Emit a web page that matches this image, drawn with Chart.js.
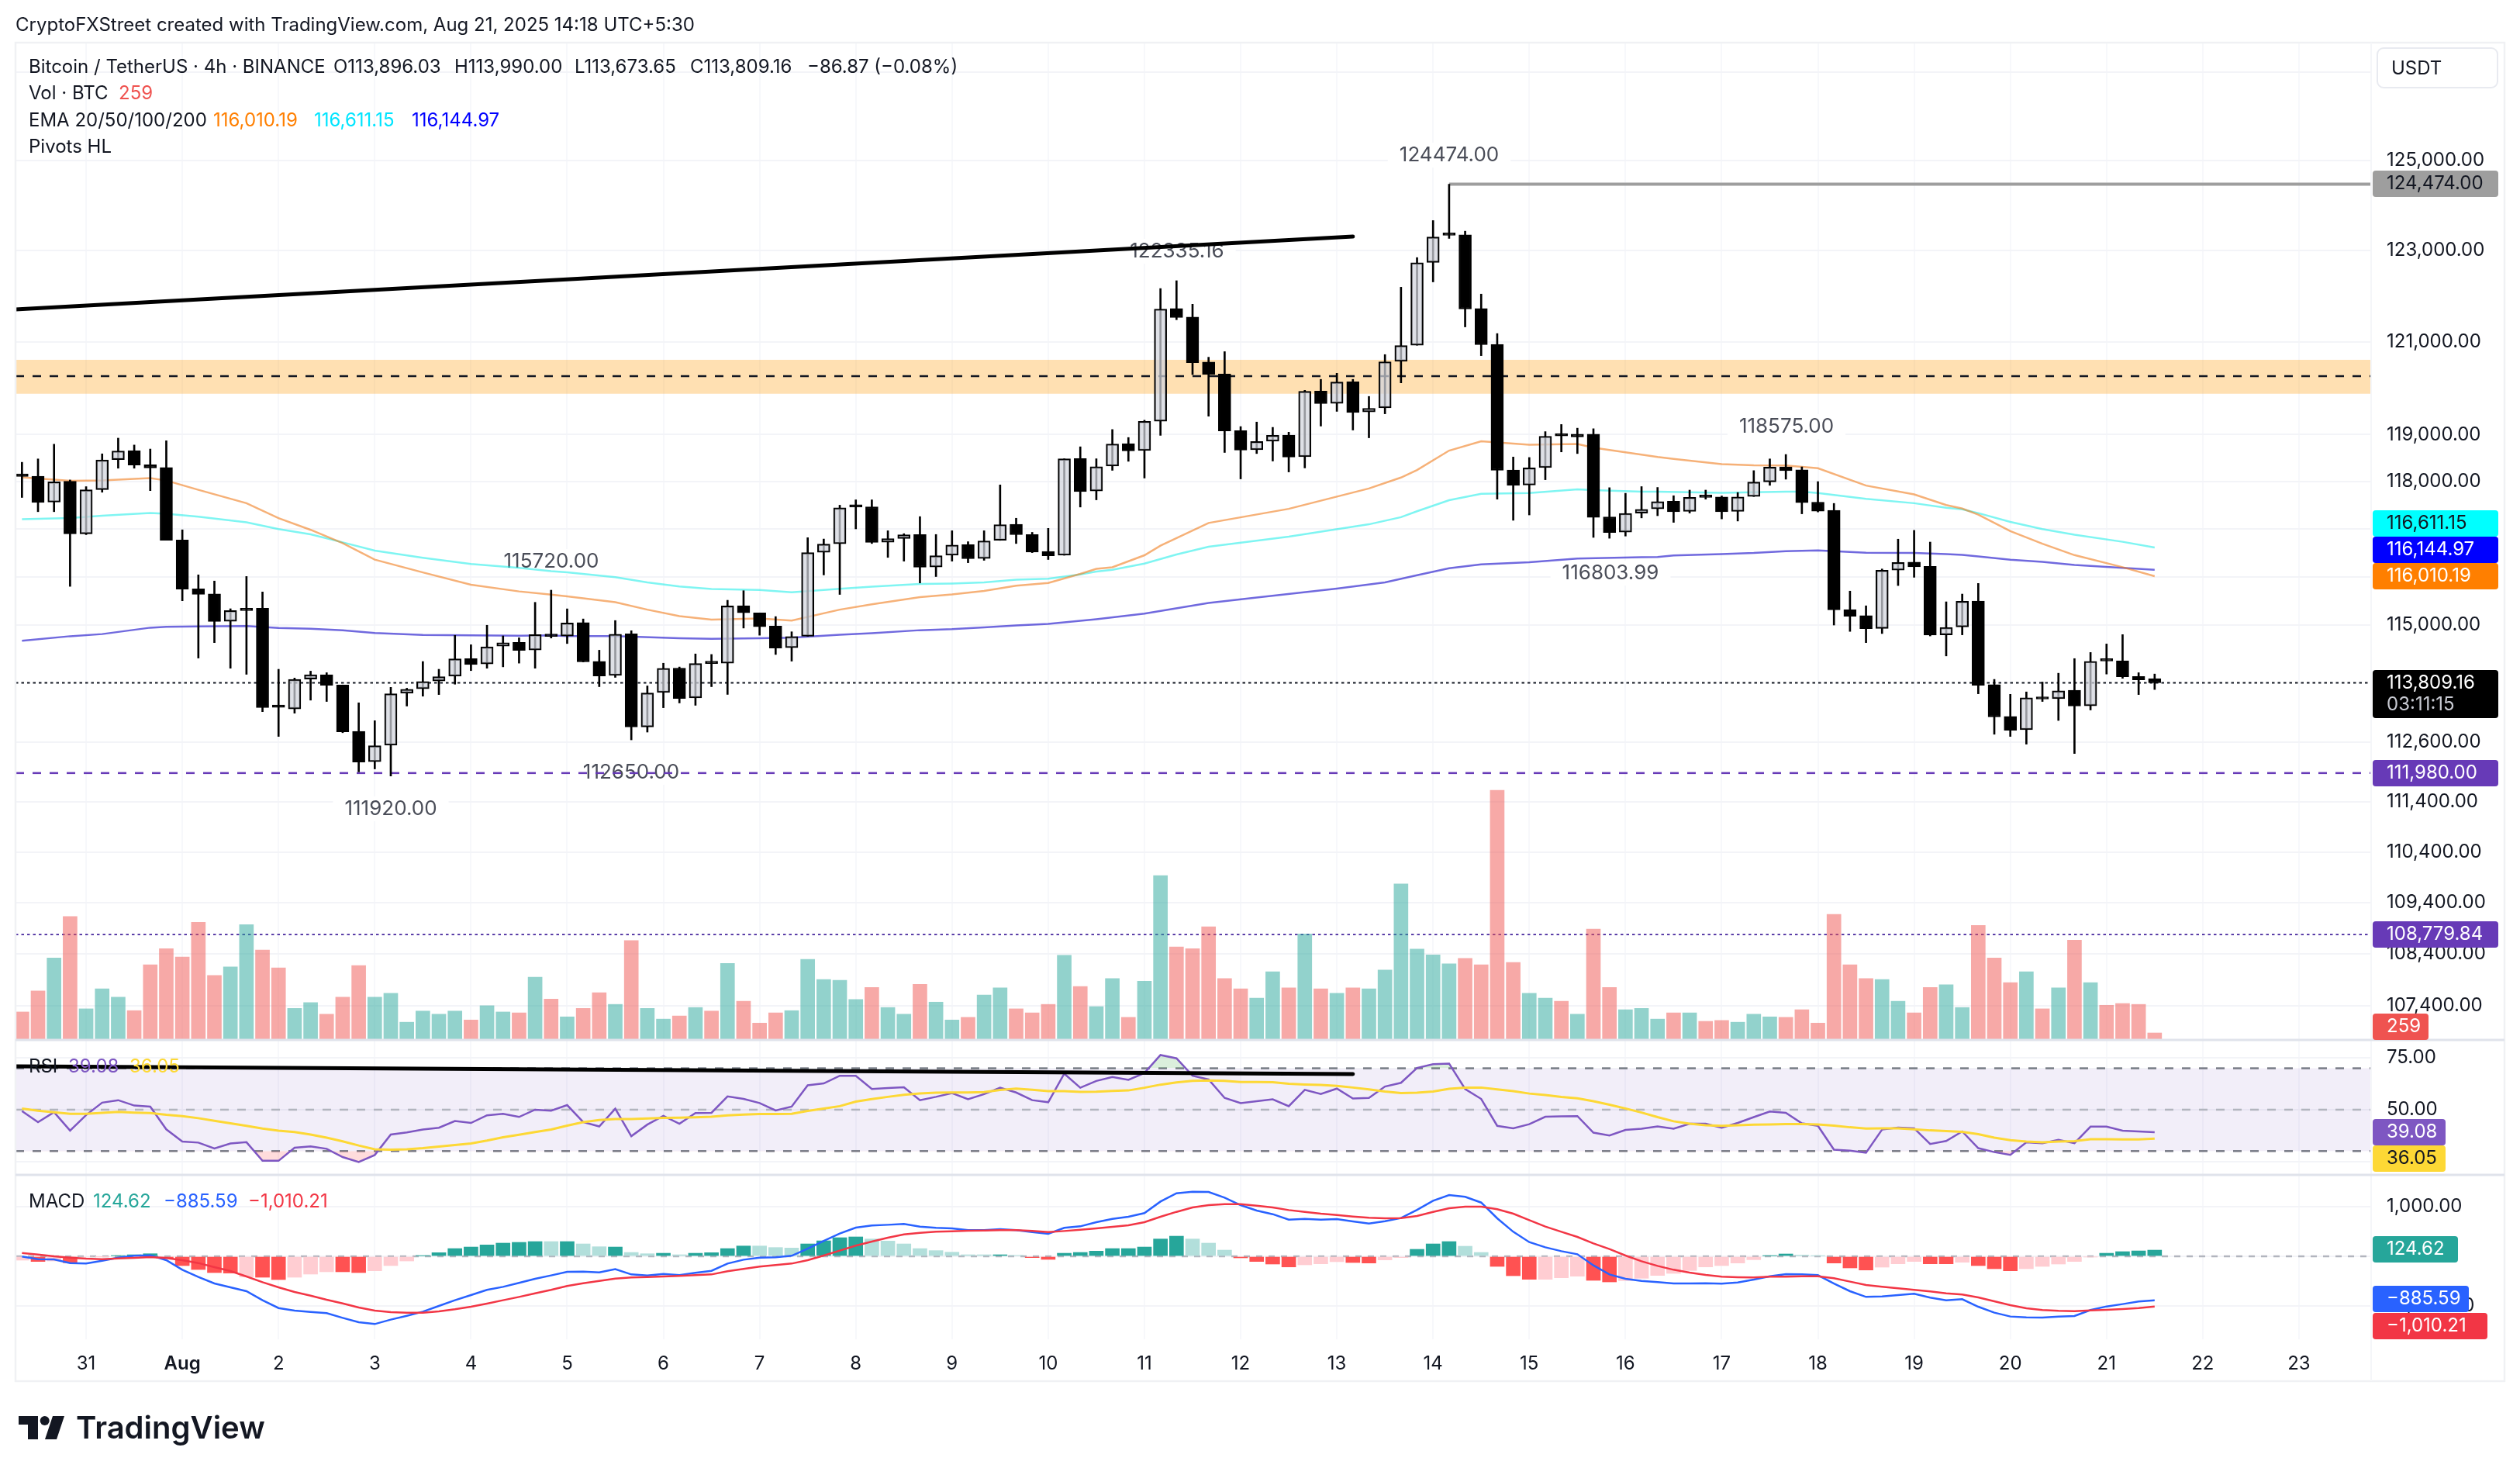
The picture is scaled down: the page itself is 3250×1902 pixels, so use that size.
<!DOCTYPE html>
<html>
<head>
<meta charset="utf-8">
<style>
html, body { margin: 0; padding: 0; background: #fff; }
canvas { display: block; }
</style>
<script src="https://cdn.jsdelivr.net/npm/chart.js@4"></script>
</head>
<body>
<canvas id="chart" width="3250" height="1902"></canvas>
<script>
// 4h candles
var opens = [118164,118113,117565,118005,116897,117830,118464,118657,118357,118300,116769,115749,115644,115075,115345,115345,113326,113277,113886,113974,113766,112822,112208,112541,113597,113690,113848,113946,114306,114197,114564,114641,114482,114811,114770,115046,114249,113960,114814,112911,113612,114112,113503,114233,114211,115399,115249,114974,114529,114765,116509,116687,117483,117467,116721,116799,116883,116203,116448,116671,116381,116760,117096,116883,116526,116448,118490,117799,118328,118806,118658,119284,121726,121539,120561,120301,119085,118675,118857,118988,118527,119933,119669,120134,119485,119571,120578,120925,122737,123357,123345,121726,120942,118244,117926,118295,118988,119011,119011,117254,116934,117334,117424,117582,117368,117683,117672,117368,117683,117994,118311,118249,117565,117391,115318,115191,114927,116139,116306,116217,114795,114960,115495,113772,113125,112854,113510,113488,113657,113342,114279,114262,113941,113896.03];
var highs = [118409,118481,118794,118033,117892,118589,118924,118777,118691,118868,116981,116039,115910,115334,116005,115683,114087,113908,114049,114017,113766,113402,113038,113717,113700,114246,114087,114785,114591,114993,114773,114734,115467,115720,115332,115123,114479,115090,114880,113747,114211,114134,114402,114391,115510,115709,115249,115172,114858,116816,116788,117500,117613,117613,116962,116900,117259,116883,116962,116732,116962,117929,117225,116928,117012,118484,118739,118484,119108,118937,119307,122163,122335,121819,120665,120786,119171,119268,119154,119051,119950,120186,120318,120186,119818,120722,122192,122844,123664,124474,123428,122041,121179,118521,118511,119063,119216,119137,119125,117870,117751,117893,117875,117700,117819,117819,117695,117768,118232,118481,118575,118311,117999,117537,115700,115395,116161,116785,116970,116724,115478,115639,115860,113880,113575,113624,113826,114006,114306,114432,114607,114800,114017,113990];
var lows = [117663,117363,117363,115799,116880,117774,118283,118283,117808,116763,115500,114317,114635,114109,113984,113222,112719,113190,113456,113429,112795,112004,112063,111920,113336,113537,113570,113782,114060,114109,114137,114213,114109,114729,114616,114238,113731,113921,112650,112807,113302,113399,113351,113731,113573,114935,114787,114391,114254,114765,116037,115631,117001,116694,116403,116325,115870,116003,116325,116292,116342,116760,116694,116503,116359,116448,117461,117613,118238,118430,118074,118983,121481,120289,119393,118618,118056,118595,118436,118204,118289,119182,119497,119097,118931,119445,120111,120925,122309,123268,121324,120699,117627,117182,117294,118039,118630,118595,116822,116804,116850,117232,117278,117138,117334,117627,117211,117166,117683,117920,118050,117318,117357,114997,114866,114635,114822,115816,115988,114772,114361,114795,113586,112763,112719,112563,113429,113043,112374,113256,113989,113902,113570,113673.65];
var closes = [118107,117559,117994,116897,117824,118459,118651,118351,118289,116763,115743,115633,115070,115295,115295,113304,113309,113880,113974,113761,112811,112203,112530,113586,113679,113837,113935,114301,114186,114547,114630,114476,114800,114762,115040,114238,113949,114808,112911,113601,114107,113492,114205,114205,115393,115249,114963,114523,114759,116503,116682,117444,117461,116716,116794,116878,116197,116437,116660,116375,116749,117091,116878,116515,116437,118484,117788,118314,118800,118652,119284,121714,121528,120549,120289,119079,118669,118852,118983,118521,119927,119663,120129,119474,119560,120566,120919,122731,123298,123339,121714,120936,118238,117920,118289,118965,118971,118949,117243,116923,117328,117413,117576,117363,117666,117666,117363,117672,117988,118306,118232,117554,117374,115312,115180,114921,116133,116295,116206,114789,114948,115489,113761,113114,112844,113505,113478,113646,113336,114251,114257,113935,113870,113809.16];
var volumes = [1136,2012,3391,5123,1267,2105,1751,1192,3111,3782,3428,4881,2664,3018,4788,3726,2981,1285,1528,1043,1751,3074,1751,1919,708,1174,1043,1174,801,1397,1136,1099,2590,1677,932,1285,1938,1453,4117,1285,838,969,1323,1174,3167,1584,671,1099,1192,3335,2496,2459,1658,2161,1323,1043,2291,1546,801,913,1844,2142,1267,1099,1453,3502,2198,1360,2534,913,2422,6837,3856,3782,4695,2534,2105,1714,2813,2142,4397,2105,1919,2142,2105,2888,6483,3763,3521,3148,3372,3111,10396,3204,1919,1714,1584,1043,4602,2161,1230,1285,838,1099,1099,745,782,708,1043,932,913,1230,671,5216,3111,2534,2496,1584,1099,2161,2273,1323,4751,3391,2366,2813,1267,2142,4136,2366,1416,1490,1453,259];
var volumeUp = [0,0,1,0,1,1,1,0,0,0,0,0,0,1,1,0,0,1,1,0,0,0,1,1,1,1,1,1,0,1,1,0,1,0,1,0,0,1,0,1,1,0,1,0,1,0,0,0,1,1,1,1,1,0,1,1,0,1,1,0,1,1,0,0,0,1,0,1,1,0,1,1,0,0,0,0,0,1,1,0,1,0,1,0,1,1,1,1,1,1,0,0,0,0,1,1,0,1,0,0,1,1,1,0,1,0,0,1,1,1,0,0,0,0,0,0,1,1,0,0,1,1,0,0,0,1,0,1,0,1,0,0,0,0];

// EMA curves, read at the bars listed in each index array
var ema20Bars = [0,3,5,8,9,11,14,16,18,20,22,25,28,31,33,34,37,39,41,43,46,48,51,53,56,58,60,62,64,66,67,68,70,71,74,79,84,86,87,89,91,94,97,98,101,102,103,106,108,110,112,115,118,120,121,122,124,126,128,131,133];
var ema20 = [118090,118016,118022,118073,118022,117824,117542,117227,116981,116702,116356,116089,115832,115694,115627,115593,115471,115316,115183,115111,115133,115089,115316,115426,115576,115631,115703,115814,115870,116059,116164,116197,116448,116650,117125,117423,117853,118085,118244,118658,118857,118783,118800,118721,118573,118521,118481,118368,118345,118340,118283,117915,117729,117503,117430,117301,116953,116690,116451,116199,116010.19];
var ema50Bars = [0,3,5,8,9,11,14,16,18,20,22,25,28,31,33,34,37,39,41,43,46,48,51,53,56,58,60,62,64,66,67,68,70,72,74,79,84,86,87,89,91,94,97,98,101,102,106,108,110,111,112,115,118,120,121,122,124,126,128,131,133];
var ema50 = [117206,117228,117278,117335,117318,117256,117138,116998,116886,116718,116545,116395,116267,116183,116117,116092,115992,115881,115798,115743,115726,115676,115748,115792,115848,115859,115881,115937,115959,116048,116109,116143,116273,116465,116628,116839,117097,117248,117373,117605,117740,117757,117836,117819,117785,117785,117762,117774,117785,117785,117757,117633,117542,117447,117413,117334,117149,116998,116880,116730,116611.15];
var ema200Bars = [0,3,5,8,9,11,14,16,18,20,22,25,28,31,33,34,37,41,43,46,48,49,51,53,56,58,60,62,64,66,67,70,74,77,82,85,87,89,91,94,97,101,102,103,106,108,110,112,115,118,120,121,122,124,126,128,131,133];
var ema200 = [114674,114767,114811,114943,114960,114971,114976,114938,114921,114888,114833,114795,114784,114778,114784,114770,114770,114726,114715,114726,114737,114759,114797,114830,114891,114913,114951,114990,115023,115084,115117,115233,115453,115569,115753,115883,116031,116178,116258,116303,116381,116409,116413,116445,116473,116495,116534,116551,116501,116495,116473,116456,116423,116356,116311,116244,116183,116144.97];

var rsi = [49.3,44.0,48.8,39.9,47.4,53.4,54.6,52.0,51.5,40.5,34.6,34.1,31.3,33.7,34.3,25.3,25.3,31.6,32.3,31.1,27.1,24.7,28.1,38.0,39.0,40.4,41.3,44.5,43.6,47.3,48.0,46.5,50.0,49.5,52.2,44.0,41.9,50.5,37.2,42.8,47.0,43.2,48.4,48.5,56.4,55.2,53.2,49.6,51.5,61.8,62.7,66.4,66.4,60.0,60.5,60.8,54.6,56.2,58.0,55.1,57.5,60.6,58.3,54.6,53.6,67.4,60.6,63.9,65.8,64.4,67.7,76.4,74.8,66.4,64.6,55.7,53.2,54.1,55.0,51.7,59.6,57.6,60.2,55.4,55.7,61.2,63.0,70.2,72.0,72.3,60.0,55.2,42.2,41.0,43.0,46.6,46.8,46.9,38.9,37.5,40.2,40.8,41.9,40.8,43.2,43.2,41.3,43.6,46.4,49.1,48.5,43.4,42.2,30.7,30.2,29.2,40.4,41.4,41.0,33.4,34.9,39.5,31.4,29.5,28.2,34.2,33.8,35.4,33.8,41.8,41.8,39.9,39.5,39.08];
var rsiMa = [50.5,49.5,48.8,48.0,48.0,48.5,48.9,48.6,48.4,47.5,46.9,45.9,44.6,43.4,42.2,40.9,39.9,39.2,38.0,36.5,34.7,32.7,30.9,30.7,30.9,31.4,32.2,32.9,33.7,35.1,36.7,37.9,39.2,40.4,42.3,44.0,45.0,45.5,45.5,45.8,46.0,46.1,46.3,46.6,47.3,47.6,47.9,47.9,48.0,49.4,50.5,51.7,53.9,55.1,56.2,57.2,57.8,58.2,58.3,58.3,58.5,59.5,60.2,59.6,59.0,59.0,58.6,58.7,59.1,59.3,60.6,62.1,63.2,63.9,64.1,63.9,63.4,63.4,63.3,62.5,62.2,62.0,61.5,60.7,59.8,58.8,58.0,58.2,58.8,60.1,60.7,60.7,59.8,59.0,57.8,57.1,56.2,55.5,54.1,52.4,50.6,48.6,46.4,44.4,43.2,42.5,42.2,42.5,42.8,42.9,43.0,43.0,42.9,42.3,41.5,40.9,41.0,41.0,40.5,40.0,39.7,39.3,38.2,36.5,35.3,34.6,34.2,34.6,34.8,35.7,35.7,35.6,35.6,36.05];

var macdLine = [-5,-57,-62,-135,-146,-89,-26,10,21,-78,-271,-417,-547,-625,-703,-885,-1042,-1094,-1120,-1146,-1240,-1328,-1365,-1276,-1198,-1115,-1000,-885,-781,-677,-615,-536,-453,-385,-312,-307,-323,-260,-365,-385,-354,-380,-333,-292,-146,-68,-26,-21,10,156,312,458,578,620,635,651,599,573,562,526,526,547,526,490,453,573,604,687,755,797,870,1104,1271,1302,1297,1182,1031,922,849,740,755,740,750,703,661,708,771,937,1120,1234,1198,1083,766,495,286,182,104,42,-182,-365,-453,-495,-521,-547,-547,-542,-552,-526,-469,-401,-359,-365,-380,-547,-703,-818,-807,-781,-755,-833,-885,-865,-1016,-1135,-1213,-1229,-1234,-1213,-1203,-1083,-1010,-963,-911,-885.59];
var macdSignal = [68,36,0,-26,-47,-57,-42,-31,-16,-36,-78,-135,-219,-297,-406,-521,-625,-719,-792,-875,-948,-1031,-1094,-1125,-1135,-1135,-1109,-1068,-1016,-953,-885,-818,-745,-677,-599,-542,-495,-448,-427,-417,-406,-396,-380,-365,-302,-255,-208,-177,-146,-78,16,115,214,297,375,443,474,495,505,516,521,526,526,510,490,510,536,562,594,625,687,797,896,984,1031,1052,1052,1021,984,932,896,859,833,802,776,766,771,812,896,969,1000,1000,948,859,729,599,495,391,260,146,16,-99,-193,-271,-328,-375,-411,-422,-427,-411,-411,-401,-401,-443,-510,-578,-615,-646,-677,-708,-745,-771,-828,-906,-984,-1047,-1083,-1099,-1104,-1088,-1078,-1062,-1042,-1010.21];
var macdHist = [-78,-104,-94,-130,-16,-5,10,31,52,-42,-187,-266,-328,-339,-417,-422,-469,-422,-359,-312,-312,-328,-292,-187,-94,10,73,156,187,229,266,281,297,297,297,250,193,187,78,52,62,31,62,73,156,208,208,177,167,250,312,375,391,349,307,250,156,115,83,31,31,31,21,-26,-62,62,78,104,156,156,187,349,406,349,266,125,-31,-104,-156,-214,-172,-151,-109,-125,-135,-73,-26,141,250,297,203,78,-203,-391,-464,-464,-432,-401,-484,-516,-490,-443,-385,-344,-286,-214,-187,-135,-68,10,47,26,10,-135,-234,-276,-219,-151,-104,-151,-151,-120,-187,-250,-292,-250,-203,-156,-104,-10,62,94,109,124.62];
var histStrong = [0,1,0,1,0,0,1,1,1,1,1,1,1,1,0,1,1,0,0,0,1,1,0,0,0,1,1,1,1,1,1,1,1,0,1,0,0,1,0,0,1,0,1,1,1,1,0,0,0,1,1,1,1,0,0,0,0,0,0,0,0,1,0,1,1,1,1,1,1,1,1,1,1,0,0,0,1,1,1,1,0,0,0,1,1,0,0,1,1,1,0,0,1,1,1,0,0,0,1,1,0,0,0,0,0,0,0,0,0,1,1,0,0,1,1,1,0,0,0,1,1,0,1,1,1,0,0,0,0,0,1,1,1,1];

// axis ticks and labels
var priceTicks = [127000,125000,123000,121000,119000,118000,117000,116000,115000,112600,111400,110400,109400,108400,107400];
var rsiTicks = [75,50,25];
var macdTicks = [1000,0,-1000];
var dayNames = ['31','Aug','2','3','4','5','6','7','8','9','10','11','12','13','14','15','16','17','18','19','20','21','22','23'];

// drawn levels
var zoneLow = 119876, zoneHigh = 120609, zoneMid = 120256;
var highLevel = 124474, lowLevel = 111980, volumeLevel = 108779.84, lastPrice = 113809.16;
var trendStart = 121705, trendEnd = 123310, rsiTrendStart = 71, rsiTrendEnd = 67.2;
var pivotTexts = ['124474.00','122335.16','118575.00','116803.99','115720.00','112650.00','111920.00'];

var BAR_SLOTS = 147;
var FONT = 'Inter, "Noto Sans", sans-serif';
var INK = '#131722';

var timeLabels = [];
for (var s = 0; s < BAR_SLOTS; s++) timeLabels.push('');
dayNames.forEach(function (name, k) { timeLabels[4 + 6 * k] = name; });

function sparse(bars, vals) {
    var a = [];
    for (var i = 0; i < opens.length; i++) a.push(null);
    bars.forEach(function (b, j) { a[b] = vals[j]; });
    return a;
}

function money(v) {
    var t = Math.abs(v).toLocaleString('en-US', { minimumFractionDigits: 2, maximumFractionDigits: 2 });
    return (v < 0 ? '\u2212' : '') + t;
}

function setTicks(list) {
    return function (scale) {
        scale.ticks = list.map(function (v) { return { value: v }; });
    };
}

function yAxis(min, max, ticks, order, weight, type) {
    return {
        type: type,
        position: 'right',
        stack: 'panes',
        stackWeight: weight,
        weight: order,
        min: min,
        max: max,
        afterBuildTicks: setTicks(ticks),
        afterFit: function (scale) { scale.width = 192; },
        border: { display: false },
        grid: { color: '#f3f4f8', lineWidth: 2, drawTicks: false },
        ticks: {
            autoSkip: false,
            padding: 20,
            color: INK,
            font: { family: FONT, size: 24 },
            callback: function (v) { return money(v); }
        }
    };
}

function hline(ctx, x0, x1, y, color, width, dash) {
    ctx.save();
    ctx.beginPath();
    ctx.setLineDash(dash || []);
    ctx.strokeStyle = color;
    ctx.lineWidth = width;
    ctx.moveTo(x0, y);
    ctx.lineTo(x1, y);
    ctx.stroke();
    ctx.restore();
}

function label(ctx, text, x, y, color, font, align) {
    ctx.font = font || ('24px ' + FONT);
    ctx.fillStyle = color || INK;
    ctx.textAlign = align || 'left';
    ctx.textBaseline = 'middle';
    ctx.fillText(text, x, y);
}

// text pieces of the header, x and y in page pixels
var legendRows = [
    ['Bitcoin / TetherUS \u00b7 4h \u00b7 BINANCE', 37, 87, INK],
    ['O113,896.03', 430, 87, INK], ['H113,990.00', 586, 87, INK], ['L113,673.65', 741, 87, INK], ['C113,809.16', 890, 87, INK],
    ['\u221286.87 (\u22120.08%)', 1041, 87, INK],
    ['Vol \u00b7 BTC', 37, 121, INK], ['259', 153, 121, '#ef5350'],
    ['EMA 20/50/100/200', 37, 156, INK], ['116,010.19', 275, 156, '#ff7f00'], ['116,611.15', 405, 156, '#00e5ff'], ['116,144.97', 531, 156, '#0000ff'],
    ['Pivots HL', 37, 190, INK],
    ['RSI', 37, 1376, INK], ['39.08', 88, 1376, '#7e57c2'], ['36.05', 167, 1376, '#fdd835'],
    ['MACD', 37, 1550, INK], ['124.62', 120, 1550, '#26a69a'], ['\u2212885.59', 211, 1550, '#2962ff'], ['\u22121,010.21', 320, 1550, '#f23645']
];

// value tags on the right: text, centre y, right edge, fill, ink
var valueTags = [
    ['124,474.00', 237, 3222, '#9e9e9e', INK],
    ['116,611.15', 675, 3222, '#00ffff', INK],
    ['116,144.97', 709, 3222, '#0000ff', '#ffffff'],
    ['116,010.19', 743, 3222, '#ff7f00', '#ffffff'],
    ['111,980.00', 997, 3222, '#673ab7', '#ffffff'],
    ['108,779.84', 1205, 3222, '#673ab7', '#ffffff'],
    ['259', 1324, 3132, '#ef5350', '#ffffff'],
    ['39.08', 1460, 3154, '#7e57c2', '#ffffff'],
    ['36.05', 1494, 3154, '#fdd835', INK],
    ['124.62', 1611, 3170, '#26a69a', '#ffffff'],
    ['\u2212885.59', 1675, 3184, '#2962ff', '#ffffff'],
    ['\u22121,010.21', 1710, 3208, '#f23645', '#ffffff']
];

var paneDecor = {
    id: 'paneDecor',
    beforeDatasetsDraw: function (chart) {
        var ctx = chart.ctx, a = chart.chartArea, sc = chart.scales;
        var L = 20, R = a.right;
        var yP = function (v) { return sc.y.getPixelForValue(v); };
        // rsi band
        var y70 = sc.yRsi.getPixelForValue(70), y50 = sc.yRsi.getPixelForValue(50), y30 = sc.yRsi.getPixelForValue(30);
        ctx.fillStyle = 'rgba(126,87,194,0.1)';
        ctx.fillRect(L, y70, R - L, y30 - y70);
        hline(ctx, L, R, y70, '#787b86', 2.5, [11, 11]);
        hline(ctx, L, R, y50, '#b2b5be', 2.5, [11, 11]);
        hline(ctx, L, R, y30, '#787b86', 2.5, [11, 11]);
        // pivot labels, white patch breaks the grid
        var spots = [[1869, 200], [1518, 324], [2304, 550], [2077, 739], [711, 724], [814, 996], [504, 1043]];
        pivotTexts.forEach(function (t, i) {
            ctx.font = '26px ' + FONT;
            var w = ctx.measureText(t).width + 30;
            ctx.fillStyle = '#fff';
            ctx.fillRect(spots[i][0] - w / 2, spots[i][1] - 16, w, 32);
            label(ctx, t, spots[i][0], spots[i][1], '#4a4d58', '26px ' + FONT, 'center');
        });
        // orange zone sits under the candles
        ctx.fillStyle = 'rgba(255,152,0,0.3)';
        ctx.fillRect(L, yP(zoneHigh), R - L, yP(zoneLow) - yP(zoneHigh));
        hline(ctx, L, R, yP(zoneMid), '#131722', 2.5, [11, 11]);
        // levels
        hline(ctx, L, R, yP(lastPrice), '#131722', 2, [3.5, 4]);
        hline(ctx, L, R, yP(lowLevel), '#673ab7', 2.5, [11, 11]);
        hline(ctx, L, R, yP(volumeLevel), '#5b3fa8', 2, [3.5, 4]);
        hline(ctx, sc.x.getPixelForValue(89), R, yP(highLevel), '#9e9e9e', 4);
        hline(ctx, L, R, sc.yMacd.getPixelForValue(0), '#b2b5be', 2.5, [8, 8]);
    },
    afterDatasetsDraw: function (chart) {
        var ctx = chart.ctx, sc = chart.scales;
        var L = 20;
        var yP = function (v) { return sc.y.getPixelForValue(v); };
        // trend lines, price pane then rsi pane
        var xEnd = sc.x.getPixelForValue(83);
        ctx.save();
        ctx.strokeStyle = '#000';
        ctx.lineWidth = 5;
        ctx.lineCap = 'round';
        ctx.beginPath();
        ctx.moveTo(L, yP(trendStart));
        ctx.lineTo(xEnd, yP(trendEnd));
        ctx.moveTo(L, sc.yRsi.getPixelForValue(rsiTrendStart));
        ctx.lineTo(xEnd, sc.yRsi.getPixelForValue(rsiTrendEnd));
        ctx.stroke();
        ctx.restore();
    },
    afterDraw: function (chart) {
        var ctx = chart.ctx;
        var RIGHT = 3230;
        ctx.fillStyle = '#fff';
        ctx.fillRect(0, 40, 20, 1760);
        // frame and pane separators
        ctx.strokeStyle = '#f0f1f4';
        ctx.lineWidth = 2.5;
        ctx.strokeRect(20, 55, RIGHT - 20, 1781 - 55);
        ctx.beginPath();
        ctx.lineWidth = 2;
        ctx.moveTo(3058, 55);
        ctx.lineTo(3058, 1781);
        ctx.strokeStyle = '#f5f6f9';
        ctx.stroke();
        hline(ctx, 20, RIGHT, 1341, '#e0e3eb', 3);
        hline(ctx, 20, RIGHT, 1515, '#e0e3eb', 3);
        // header
        label(ctx, 'CryptoFXStreet created with TradingView.com, Aug 21, 2025 14:18 UTC+5:30', 20, 33, INK);
        legendRows.forEach(function (r) { label(ctx, r[0], r[1], r[2], r[3]); });
        // usdt box
        ctx.fillStyle = '#fff';
        ctx.strokeStyle = '#e8eaf0';
        ctx.lineWidth = 2;
        ctx.beginPath();
        ctx.roundRect(3066, 62, 155, 51, 8);
        ctx.fill();
        ctx.stroke();
        label(ctx, 'USDT', 3084, 89, INK);
        // tags
        valueTags.forEach(function (t) {
            ctx.fillStyle = t[3];
            ctx.beginPath();
            ctx.roundRect(3060, t[1] - 17, t[2] - 3060, 34, 4);
            ctx.fill();
            label(ctx, t[0], 3078, t[1], t[4]);
        });
        ctx.fillStyle = '#000';
        ctx.beginPath();
        ctx.roundRect(3060, 864, 162, 62, 4);
        ctx.fill();
        label(ctx, '113,809.16', 3078, 881, '#ffffff');
        label(ctx, '03:11:15', 3078, 909, '#c8cad2');
        // logo mark
        ctx.fillStyle = '#131722';
        ctx.beginPath();
        ctx.moveTo(24, 1826); ctx.lineTo(49, 1826); ctx.lineTo(49, 1856); ctx.lineTo(36, 1856); ctx.lineTo(36, 1837); ctx.lineTo(24, 1837);
        ctx.closePath();
        ctx.fill();
        ctx.beginPath();
        ctx.arc(57.7, 1832, 6, 0, Math.PI * 2);
        ctx.fill();
        ctx.beginPath();
        ctx.moveTo(68, 1826); ctx.lineTo(83, 1826); ctx.lineTo(73, 1856); ctx.lineTo(58, 1856);
        ctx.closePath();
        ctx.fill();
        label(ctx, 'TradingView', 98, 1843, '#131722', '600 40px ' + FONT);
    }
};

var wickData = highs.map(function (h, i) { return [lows[i], h]; });
var bodyData = opens.map(function (o, i) { return [Math.min(o, closes[i]), Math.max(o, closes[i])]; });
var isUp = function (i) { return closes[i] >= opens[i]; };

function lineSet(data, axis, color, width, order) {
    return {
        type: 'line', data: data, yAxisID: axis, borderColor: color, borderWidth: width,
        pointRadius: 0, tension: 0, spanGaps: true, order: order
    };
}

// tint where rsi leaves the 30-70 band
var rsiOver = lineSet(rsi, 'yRsi', 'transparent', 0, 3);
rsiOver.fill = { target: { value: 70 }, above: 'rgba(76,175,80,0.2)', below: 'transparent' };
var rsiUnder = lineSet(rsi, 'yRsi', 'transparent', 0, 3);
rsiUnder.fill = { target: { value: 30 }, above: 'transparent', below: 'rgba(255,82,82,0.2)' };

new Chart(document.getElementById('chart').getContext('2d'), {
    type: 'bar',
    plugins: [paneDecor],
    data: {
        labels: timeLabels,
        datasets: [
            {
                label: 'Volume', data: volumes, yAxisID: 'yVol', grouped: false, barThickness: 18, order: 9,
                backgroundColor: volumes.map(function (v, i) { return volumeUp[i] ? 'rgba(38,166,154,0.5)' : 'rgba(239,83,80,0.5)'; })
            },
            lineSet(sparse(ema20Bars, ema20), 'y', 'rgba(240,125,30,0.6)', 2.5, 6),
            lineSet(sparse(ema50Bars, ema50), 'y', 'rgba(0,235,230,0.5)', 2.5, 6),
            lineSet(sparse(ema200Bars, ema200), 'y', 'rgba(35,25,205,0.65)', 2.5, 6),
            { label: 'Wicks', data: wickData, yAxisID: 'y', grouped: false, barThickness: 2, backgroundColor: '#000', order: 4 },
            {
                label: 'Bodies', data: bodyData, yAxisID: 'y', grouped: false, barThickness: 16, order: 3,
                minBarLength: 3, borderSkipped: false, borderWidth: 2, borderColor: '#000',
                backgroundColor: opens.map(function (o, i) { return isUp(i) ? 'rgba(209,212,220,0.72)' : '#000'; })
            },
            {
                label: 'Hist', data: macdHist, yAxisID: 'yMacd', grouped: false, barThickness: 18, order: 8,
                backgroundColor: macdHist.map(function (v, i) {
                    if (v >= 0) return histStrong[i] ? '#26a69a' : '#b2dfdb';
                    return histStrong[i] ? '#ff5252' : '#ffcdd2';
                })
            },
            rsiOver,
            rsiUnder,
            lineSet(rsi, 'yRsi', '#7e57c2', 2.5, 2),
            lineSet(rsiMa, 'yRsi', '#fdd835', 3, 1),
            lineSet(macdLine, 'yMacd', '#2962ff', 2.5, 2),
            lineSet(macdSignal, 'yMacd', '#f23645', 2.5, 1)
        ]
    },
    options: {
        responsive: false,
        animation: false,
        devicePixelRatio: 1,
        events: [],
        layout: { padding: { top: 55, left: 18, right: 0, bottom: 121 } },
        plugins: { legend: { display: false }, tooltip: { enabled: false }, title: { display: false } },
        scales: {
            x: {
                type: 'category',
                position: 'bottom',
                offset: true,
                afterBuildTicks: function (scale) {
                    scale.ticks = scale.ticks.filter(function (t) { return timeLabels[t.value] !== ''; });
                },
                afterFit: function (scale) { scale.height = 54; },
                border: { display: false },
                grid: { color: '#f7f8fb', lineWidth: 2, drawTicks: false, offset: false },
                ticks: {
                    autoSkip: false,
                    maxRotation: 0,
                    padding: 17,
                    color: INK,
                    font: function (c) {
                        return { family: FONT, size: 24, weight: c.tick && c.tick.label === 'Aug' ? '600' : '400' };
                    }
                }
            },
            y: yAxis(106738, 127680, priceTicks, 0, 1286, 'logarithmic'),
            yRsi: yAxis(18.5, 83.7, rsiTicks, 1, 174, 'linear'),
            yMacd: yAxis(-1672, 1641, macdTicks, 2, 212, 'linear'),
            yVol: { type: 'linear', position: 'right', display: false, min: -12539, max: 41634 }
        }
    }
});
</script>
</body>
</html>
